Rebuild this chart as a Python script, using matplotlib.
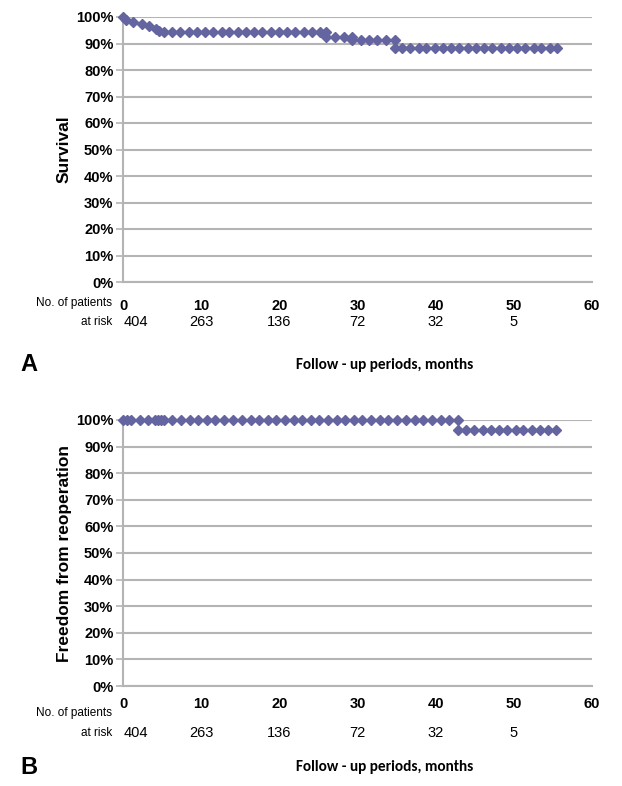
import matplotlib.pyplot as plt
from matplotlib.ticker import PercentFormatter

# Survival curve (panel A)
surv_months = [0, 0.4, 1.2, 2.4, 3.3, 4.2, 4.6, 5.2, 6.2, 7.3, 8.4, 9.4, 10.5, 11.5,
               12.6, 13.6, 14.7, 15.7, 16.8, 17.8, 18.9, 19.9, 21.0, 22.0, 23.1,
               24.1, 25.2, 26.0, 26.0, 27.1, 28.2, 29.3, 29.3, 30.4, 31.5, 32.5,
               33.6, 34.8, 34.8, 35.7, 36.7, 37.8, 38.8, 39.9, 40.9, 42.0, 43.0,
               44.1, 45.1, 46.2, 47.2, 48.3, 49.3, 50.4, 51.4, 52.5, 53.5, 54.6, 55.5]
surv_values = [1.000, 0.990, 0.982, 0.973, 0.965, 0.955, 0.948, 0.943, 0.942, 0.942,
               0.942, 0.942, 0.942, 0.942, 0.942, 0.942, 0.942, 0.942, 0.942, 0.942,
               0.942, 0.942, 0.942, 0.942, 0.942, 0.942, 0.942, 0.942, 0.926, 0.924,
               0.924, 0.924, 0.913, 0.913, 0.913, 0.913, 0.913, 0.913, 0.883, 0.883,
               0.883, 0.883, 0.883, 0.883, 0.883, 0.883, 0.883, 0.883, 0.883, 0.883,
               0.883, 0.883, 0.883, 0.883, 0.883, 0.883, 0.883, 0.883, 0.883]

# Freedom from reoperation (panel B)
reop_months = [0, 0.5, 1.0, 2.1, 3.2, 4.1, 4.4, 4.8, 5.2, 6.3, 7.4, 8.5, 9.6, 10.7,
               11.8, 12.9, 14.1, 15.2, 16.3, 17.4, 18.5, 19.6, 20.7, 21.8, 22.9,
               24.0, 25.1, 26.2, 27.3, 28.4, 29.5, 30.6, 31.7, 32.8, 33.9, 35.0,
               36.2, 37.3, 38.4, 39.5, 40.6, 41.7, 42.8, 42.8, 43.9, 44.9, 46.0,
               47.0, 48.1, 49.1, 50.2, 51.2, 52.3, 53.3, 54.4, 55.4]
reop_values = [1.0] * 43 + [0.962] * 13

ticks = [0, 10, 20, 30, 40, 50, 60]
at_risk = ["404", "263", "136", "72", "32", "5"]

color = "#6464a0"
grid = "#b4b4b4"
narrow = ["Liberation Sans Narrow", "Liberation Sans", "DejaVu Sans"]
sans = ["Liberation Sans", "DejaVu Sans"]

fig = plt.figure(figsize=(6.22, 7.86), dpi=100)


def panel(rect, x, y, ylabel, letter, pad, y_pat, y_risk, y_lab):
    ax = fig.add_axes(rect)
    ax.plot(x, y, color=color, lw=1, marker="D", ms=4.8, clip_on=False, zorder=3)
    ax.set_xlim(0, 60)
    ax.set_ylim(0, 1)
    ax.set_yticks([i / 10 for i in range(11)])
    ax.yaxis.set_major_formatter(PercentFormatter(1.0, decimals=0))
    ax.set_xticks(ticks)
    ax.grid(axis="y", color=grid, lw=1.5)
    for s in ["top", "right"]:
        ax.spines[s].set_visible(False)
    for s in ["left", "bottom"]:
        ax.spines[s].set_color(grid)
        ax.spines[s].set_linewidth(1.5)
    ax.tick_params(axis="y", length=5, color=grid, width=1.2, pad=2)
    ax.tick_params(axis="x", length=0, pad=pad)
    for lab in ax.get_yticklabels() + ax.get_xticklabels():
        lab.set_family(narrow)
        lab.set_fontweight("bold")
        lab.set_fontsize(10.5)
    ax.set_ylabel(ylabel, family=sans, fontweight="bold", fontsize=12.5, labelpad=3)
    tr = ax.get_xaxis_transform()
    # patients at risk row
    ax.text(-1.4, -y_pat, "No. of patients", transform=tr,
            ha="right", va="center", family=sans, fontsize=8.5)
    ax.text(-1.4, -y_risk, "at risk", transform=tr,
            ha="right", va="center", family=sans, fontsize=8.5)
    for i, n in enumerate(at_risk):
        ax.text(ticks[i] if i else 0.1, -y_risk, n, transform=tr,
                ha="left" if i == 0 else "center", va="center", family=sans, fontsize=10.5)
    ax.text(33.5, -y_lab, "Follow - up periods, months", transform=tr,
            ha="center", va="center", family=["Carlito", "Liberation Sans", "DejaVu Sans"],
            fontweight="bold", fontsize=11)
    ax.text(-12, -y_lab, letter, transform=tr,
            ha="center", va="center", family=sans, fontweight="bold", fontsize=17)
    return ax


panel([0.198, 1 - 282 / 786, 0.754, 265 / 786], surv_months, surv_values,
      "Survival", "A", 12, 0.079, 0.151, 0.313)
panel([0.198, 1 - 686 / 786, 0.754, 266 / 786], reop_months, reop_values,
      "Freedom from reoperation", "B", 8, 0.102, 0.177, 0.305)

fig.savefig("out.png", dpi=100)
